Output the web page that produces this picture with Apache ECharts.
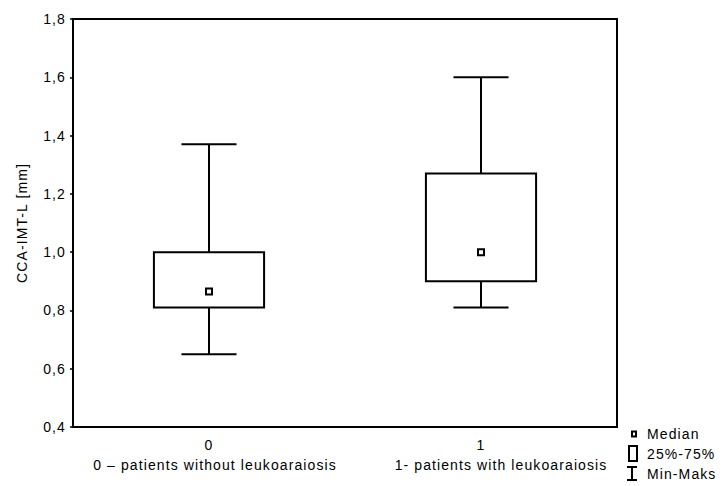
<!DOCTYPE html>
<html>
<head>
<meta charset="utf-8">
<script src="https://cdn.jsdelivr.net/npm/echarts@6/dist/echarts.min.js"></script>
<style>
  html, body { margin: 0; padding: 0; background: #fff; }
  #chart { width: 723px; height: 486px; }
  #chart svg text { letter-spacing: 1.1px; }
</style>
</head>
<body>
<div id="chart"></div>
<script>
// Groups on the x axis and their descriptions
const categories = ['0', '1'];
const groupNames = ['0 – patients without leukoaraiosis', '1- patients with leukoaraiosis'];

// CCA-IMT-L summary per group [mm]
const minValues    = [0.65, 0.81];
const q1Values     = [0.81, 0.90];
const medianValues = [0.865, 1.00];
const q3Values     = [1.00, 1.27];
const maxValues    = [1.37, 1.60];

// Value axis ticks
const yTicks = [0.4, 0.6, 0.8, 1.0, 1.2, 1.4, 1.6, 1.8];

const FONT = 'Liberation Sans, Arial, sans-serif';
const FS = 14;
const INK = '#000';
const BOX_FRACTION = 0.405;

const chart = echarts.init(document.getElementById('chart'), null, { renderer: 'svg' });

const boxData = categories.map((c, i) => [i, q1Values[i], q3Values[i]]);
const whiskerData = categories.map((c, i) => [i, minValues[i], q1Values[i], q3Values[i], maxValues[i]]);
const medianData = categories.map((c, i) => [i, medianValues[i]]);

const lineStyle = { stroke: '#000', lineWidth: 2, fill: null };
const legendText = { fontSize: FS, color: INK, fontFamily: FONT, padding: [0, 0, 0, 5] };

chart.setOption({
  animation: false,
  backgroundColor: '#fff',
  textStyle: { fontFamily: FONT, color: INK },
  grid: {
    left: 73, right: 106, top: 19, bottom: 59,
    show: true, borderColor: '#000', borderWidth: 2, backgroundColor: 'transparent'
  },
  xAxis: {
    type: 'category',
    data: categories,
    boundaryGap: true,
    axisLine: { lineStyle: { color: '#000', width: 2 } },
    axisTick: { alignWithLabel: true, inside: true, length: 3, lineStyle: { color: '#000', width: 1.5 } },
    axisLabel: {
      margin: 8,
      interval: 0,
      formatter: (value, index) => `{n|${value}}\n{g${index}|${groupNames[index]}}`,
      rich: {
        n:  { fontSize: FS, lineHeight: 20, color: INK, fontFamily: FONT },
        g0: { fontSize: FS, lineHeight: 20, color: INK, fontFamily: FONT, padding: [0, 0, 0, 12] },
        g1: { fontSize: FS, lineHeight: 20, color: INK, fontFamily: FONT, padding: [0, 0, 0, 40] }
      }
    },
    splitLine: { show: false }
  },
  yAxis: {
    type: 'value',
    min: yTicks[0],
    max: yTicks[yTicks.length - 1],
    interval: 0.2,
    name: 'CCA-IMT-L [mm]',
    nameLocation: 'middle',
    nameGap: 44,
    nameTextStyle: { fontSize: FS, color: INK, fontFamily: FONT },
    axisLine: { show: true, lineStyle: { color: '#000', width: 2 } },
    axisTick: { show: true, inside: false, length: 3, lineStyle: { color: '#000', width: 1.5 } },
    axisLabel: {
      margin: 7,
      fontSize: FS,
      color: INK,
      formatter: v => v.toFixed(1).replace('.', ',')
    },
    splitLine: { show: false }
  },
  legend: [
    {
      data: [{ name: 'Median', icon: 'rect', itemStyle: { color: '#fff', borderColor: '#000', borderWidth: 2 } }],
      left: 631, top: 427, padding: 0, itemWidth: 4, itemHeight: 5,
      selectedMode: false,
      textStyle: Object.assign({}, legendText, { padding: [0, 0, 0, 6] })
    },
    {
      data: [{ name: '25%-75%', icon: 'rect', itemStyle: { color: '#fff', borderColor: '#000', borderWidth: 2 } }],
      left: 628, top: 445, padding: 0, itemWidth: 8, itemHeight: 15,
      selectedMode: false,
      textStyle: legendText
    },
    {
      data: [{ name: 'Min-Maks', icon: 'path://M0,0H10V2H6V13H10V15H0V13H4V2H0Z',
               itemStyle: { color: '#000', borderWidth: 0 } }],
      left: 627, top: 466, padding: 0, itemWidth: 10, itemHeight: 15,
      selectedMode: false,
      textStyle: legendText
    }
  ],
  series: [
    {
      name: 'Min-Maks',
      type: 'custom',
      data: whiskerData,
      encode: { x: 0, y: [1, 2, 3, 4] },
      z: 2,
      renderItem: (params, api) => {
        const i = api.value(0);
        const pMin = api.coord([i, api.value(1)]);
        const pQ1 = api.coord([i, api.value(2)]);
        const pQ3 = api.coord([i, api.value(3)]);
        const pMax = api.coord([i, api.value(4)]);
        const half = api.size([1, 0])[0] * BOX_FRACTION / 4;
        const cx = pMin[0];
        return {
          type: 'group',
          children: [
            { type: 'line', shape: { x1: cx, y1: pMin[1], x2: cx, y2: pQ1[1] }, style: lineStyle },
            { type: 'line', shape: { x1: cx, y1: pQ3[1], x2: cx, y2: pMax[1] }, style: lineStyle },
            { type: 'line', shape: { x1: cx - half, y1: pMin[1], x2: cx + half, y2: pMin[1] }, style: lineStyle },
            { type: 'line', shape: { x1: cx - half, y1: pMax[1], x2: cx + half, y2: pMax[1] }, style: lineStyle }
          ]
        };
      }
    },
    {
      name: '25%-75%',
      type: 'custom',
      data: boxData,
      encode: { x: 0, y: [1, 2] },
      z: 3,
      renderItem: (params, api) => {
        const i = api.value(0);
        const lo = api.coord([i, api.value(1)]);
        const hi = api.coord([i, api.value(2)]);
        const w = api.size([1, 0])[0] * BOX_FRACTION;
        return {
          type: 'rect',
          shape: { x: lo[0] - w / 2, y: hi[1], width: w, height: lo[1] - hi[1] },
          style: { fill: '#fff', stroke: '#000', lineWidth: 2 }
        };
      }
    },
    {
      name: 'Median',
      type: 'scatter',
      data: medianData,
      symbol: 'rect',
      symbolSize: 6,
      z: 4,
      itemStyle: { color: '#fff', borderColor: '#000', borderWidth: 2, opacity: 1 }
    }
  ]
});
</script>
</body>
</html>
